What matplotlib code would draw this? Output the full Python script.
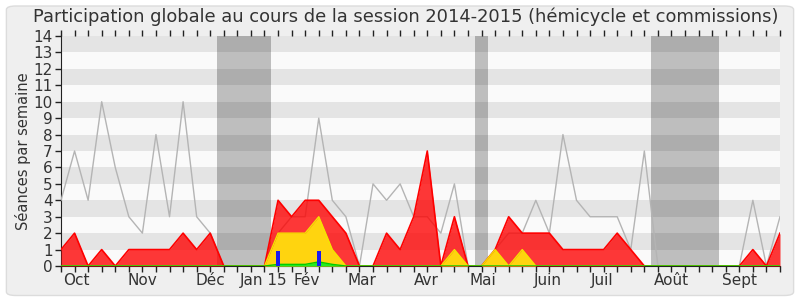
import matplotlib
matplotlib.use("Agg")
import matplotlib.pyplot as plt
from matplotlib.patches import FancyBboxPatch
import matplotlib.transforms as mtransforms
import numpy as np

# semaines de la session (0 = debut octobre 2014)
semaines = np.arange(54)

presence = [1, 2, 0, 1, 0, 1, 1, 1, 1, 2, 1, 2, 0, 0, 0, 0, 4, 3, 4, 4,
            3, 2, 0, 0, 2, 1, 3, 7, 0, 3, 0, 0, 1, 3, 2, 2, 2, 1, 1, 1,
            1, 2, 1, 0, 0, 0, 0, 0, 0, 0, 0, 1, 0, 2]
participation = [0, 0, 0, 0, 0, 0, 0, 0, 0, 0, 0, 0, 0, 0, 0, 0, 2, 2, 2, 3,
                 1, 0, 0, 0, 0, 0, 0, 0, 0, 1, 0, 0, 1, 0, 1, 0, 0, 0, 0, 0,
                 0, 0, 0, 0, 0, 0, 0, 0, 0, 0, 0, 0, 0, 0]
questions = [0, 0, 0, 0, 0, 0, 0, 0, 0, 0, 0, 0, 0, 0, 0, 0, 0.1, 0.1, 0.1, 0.25,
             0.1, 0, 0, 0, 0, 0, 0, 0, 0, 0, 0, 0, 0, 0, 0, 0, 0, 0, 0, 0,
             0, 0, 0, 0, 0, 0, 0, 0, 0, 0, 0, 0, 0, 0]
mediane = [4, 7, 4, 10, 6, 3, 2, 8, 3, 10, 3, 2, 0, 0, 0, 0, 2, 3, 3, 9,
           4, 3, 0, 5, 4, 5, 3, 3, 2, 5, 0, 0, 1, 2, 2, 4, 2, 8, 4, 3,
           3, 3, 1, 7, 0, 0, 0, 0, 0, 0, 0, 4, 0, 3]
interventions_semaines = [16, 19]
interventions = [0.9, 0.9]

vacances = [(12, 15), (31, 31), (44, 48)]

mois = ["Oct", "Nov", "Déc", "Jan 15", "Fév", "Mar", "Avr", "Mai", "Juin", "Juil", "Août", "Sept"]
mois_pos = [1.15, 6.0, 11.0, 14.9, 18.1, 22.2, 26.9, 31.1, 35.9, 39.9, 45.0, 50.0]

fig = plt.figure(figsize=(8, 3), dpi=100)
fig.patch.set_facecolor("white")
cadre = FancyBboxPatch((0.008, 0.015), 0.984, 0.965, boxstyle="round,pad=0,rounding_size=0.012",
                       transform=fig.transFigure, facecolor="#efefef", edgecolor="#dcdcdc",
                       linewidth=1, zorder=-10)
fig.patches.append(cadre)

ax = fig.add_axes([0.07625, 0.1133, 0.89875, 0.7667])
ax.set_facecolor("#fafafa")

for debut, fin in vacances:
    ax.axvspan(debut - 0.5, fin + 0.5, color="#bebebe", lw=0, zorder=1)
for y in range(1, 14, 2):
    ax.axhspan(y, y + 1, color="black", alpha=0.085, lw=0, zorder=2)

ax.plot(semaines, mediane, color="#b4b4b4", lw=1, zorder=3)
ax.fill_between(semaines, presence, color="#ff0000", alpha=0.78, lw=0, zorder=4)
ax.plot(semaines, presence, color="#ff0000", lw=1.2, zorder=4)
ax.fill_between(semaines, participation, color="#ffd40f", lw=0, zorder=5)
ax.plot(semaines, participation, color="#f4e400", lw=1, zorder=5)
ax.fill_between(semaines, questions, color="#22ee22", lw=0, zorder=6)
ax.plot(semaines, questions, color="#00cc00", lw=1, zorder=6)
ax.bar(interventions_semaines, interventions, width=0.3, color="#1a1aee", zorder=7)

ax.set_xlim(0, 53)
ax.set_ylim(0, 14)
ax.set_yticks(range(15))
ax.set_xticks(semaines)
ax.set_xticklabels([])
ax.tick_params(axis="x", length=4, width=1, color="#222222", top=True)
ax.tick_params(axis="y", length=4, width=1, color="#222222", labelsize=11, labelcolor="#333333", pad=2)

# etiquettes des mois sous l'axe
trans = mtransforms.blended_transform_factory(ax.transData, ax.transAxes)
for nom, pos in zip(mois, mois_pos):
    ax.text(pos, -0.062, nom, transform=trans, ha="center", va="center",
            fontsize=11, color="#333333")

for cote in ["top", "right"]:
    ax.spines[cote].set_visible(False)
ax.spines["left"].set_color("#222222")
ax.spines["bottom"].set_color("#222222")

ax.set_ylabel("Séances par semaine", fontsize=10.5, color="#333333", labelpad=2)
fig.text(0.5075, 0.943, "Participation globale au cours de la session 2014-2015 (hémicycle et commissions)",
         ha="center", va="center", fontsize=12.9, color="#333333")

plt.savefig("out.png", dpi=100)
